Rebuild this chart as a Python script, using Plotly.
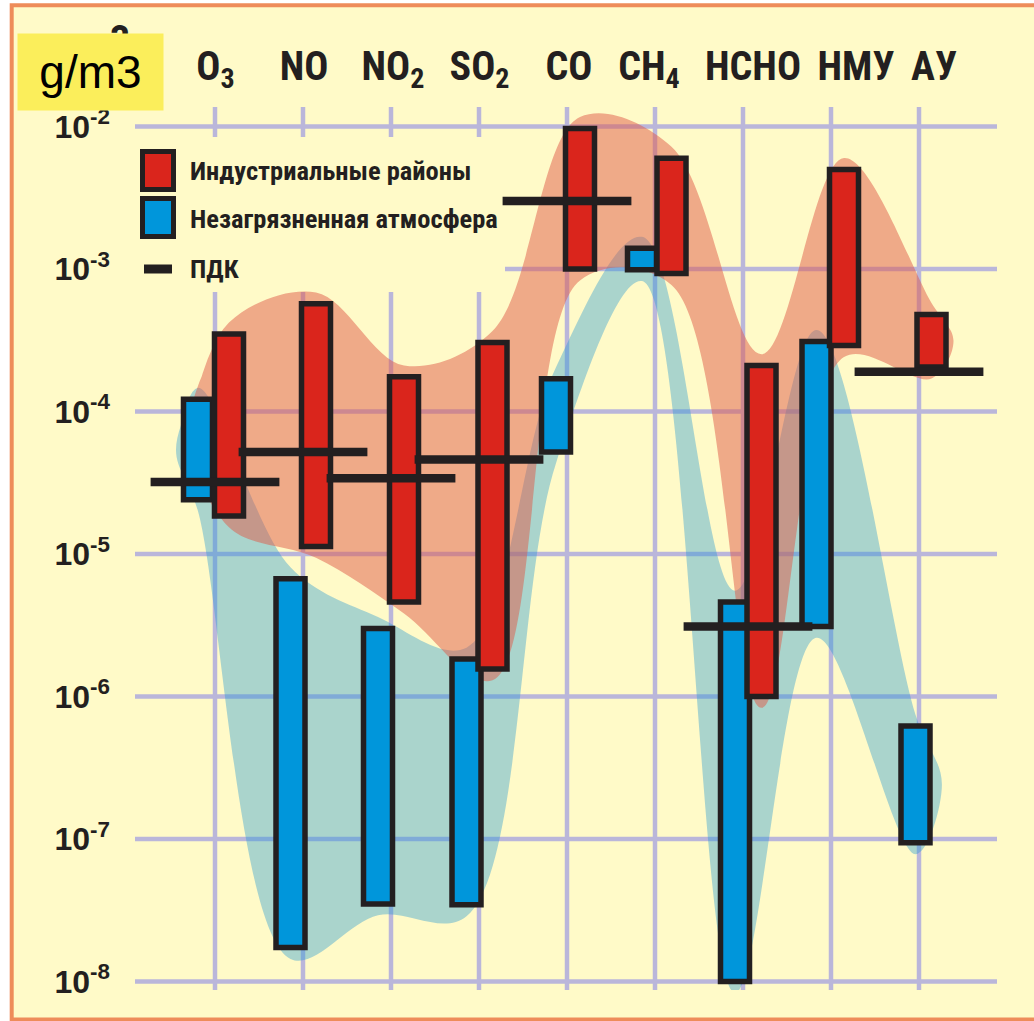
import numpy as np
import plotly.graph_objects as go

# ---- data (g/m3) ----------------------------------------------------------
categories = ["O<sub>3</sub>", "NO", "NO<sub>2</sub>", "SO<sub>2</sub>", "CO",
              "CH<sub>4</sub>", "HCHO", "НМУ", "АУ"]

# industrial areas: upper / lower limit of the observed range
industrial_high = [3.5e-4, 5.7e-4, 1.75e-4, 3.05e-4, 9.7e-3, 6.0e-3, 2.1e-4, 5.0e-3, 4.8e-4]
industrial_low = [1.85e-5, 1.13e-5, 4.6e-6, 1.56e-6, 1.0e-3, 9.3e-4, 1.0e-6, 2.9e-4, 2.05e-4]

# unpolluted atmosphere: upper / lower limit
clean_high = [1.22e-4, 6.7e-6, 3.0e-6, 1.83e-6, 1.7e-4, 1.4e-3, 4.6e-6, 3.1e-4, 6.2e-7]
clean_low = [2.4e-5, 1.73e-8, 3.5e-8, 3.45e-8, 5.2e-5, 9.9e-4, 1.0e-8, 3.1e-6, 9.4e-8]

# maximum permissible concentration (ПДК)
pdk = [3.2e-5, 5.2e-5, 3.4e-5, 4.6e-5, 3.0e-3, None, 3.1e-6, None, 1.9e-4]

decades = [1e-8, 1e-7, 1e-6, 1e-5, 1e-4, 1e-3, 1e-2]
decade_labels = ["10<sup>-8</sup>", "10<sup>-7</sup>", "10<sup>-6</sup>", "10<sup>-5</sup>",
                 "10<sup>-4</sup>", "10<sup>-3</sup>", "10<sup>-2</sup>"]

# ---- styling ---------------------------------------------------------------
W, H = 1034, 1021
ML, MR, MT, MB = 135, 37, 107, 31
PW, PH = W - ML - MR, H - MT - MB
STEP = 88.0                      # px between categories
XR = [-80 / STEP, (PW - 80) / STEP]
YR = [-8.06, -1.863]

# horizontal nudges relative to the category line (px)
clean_nudge_px = [-17, -12.5, -13, -12.5, -11, -13, -8, -14.5, -3.5]
industrial_nudge_px = [14, 13, 13, 13.5, 13, 16.5, 18.5, 13, 12.5]
pdk_nudge_px = [0, 0, 0, 0, 0, 0, 5, 0, 0]
label_nudge_px = [0.5, 1, 2, 0.5, 2, -6, 10, 25, 15]

CREAM = "#FFFAC8"
GRID = "#BAB6DA"
INK = "#231F20"
RED = "#DA251C"
BLUE = "#0096DB"
NARROW = "Roboto Condensed, Liberation Sans Narrow, Roboto, sans-serif"
SANS = "Liberation Sans, Arial, sans-serif"

BAR_W = 29 / STEP
OUTLINE = 5.5

idx = np.arange(len(categories), dtype=float)
x_clean = idx + np.array(clean_nudge_px) / STEP
x_ind = idx + np.array(industrial_nudge_px) / STEP
x_pdk = idx + np.array(pdk_nudge_px) / STEP
x_label = idx + np.array(label_nudge_px) / STEP


def px_x(px):
    return (px - ML) / PW


def px_y(py):
    return 1 - (py - MT) / PH


def envelope(xc, hi, lo, pad, cap_l, cap_r):
    """Closed smooth outline around a series of floating ranges."""
    lhi = np.log10(hi) + pad
    llo = np.log10(lo) - pad
    xs = [xc[0] - cap_l] + list(xc) + [xc[-1] + cap_r] + list(xc[::-1])
    ys = [(lhi[0] + llo[0]) / 2] + list(lhi) + [(lhi[-1] + llo[-1]) / 2] + list(llo[::-1])
    xs = xs + xs[:2]
    ys = ys + ys[:2]
    return xs, [10 ** v for v in ys]


def range_boxes(xc, hi, lo, w):
    """Rectangle outlines (one closed piece per range) for a filled scatter."""
    xs, ys = [], []
    for x, h, l in zip(xc, hi, lo):
        xs += [x, x + w / 2, x + w / 2, x - w / 2, x - w / 2, x, None]
        ys += [l, l, h, h, l, l, None]
    return xs, ys


fig = go.Figure()

# envelopes
cx, cy = envelope(x_clean, clean_high, clean_low, 0.08, 0.25, 0.3)
fig.add_trace(go.Scatter(x=cx, y=cy, mode="lines", fill="toself",
                         fillcolor="rgba(42,155,210,0.40)",
                         line=dict(width=0, shape="spline", smoothing=1.0),
                         hoverinfo="skip", showlegend=False))
ix, iy = envelope(x_ind, industrial_high, industrial_low, 0.08, 0.45, 0.25)
fig.add_trace(go.Scatter(x=ix, y=iy, mode="lines", fill="toself",
                         fillcolor="rgba(223,90,72,0.50)",
                         line=dict(width=0, shape="spline", smoothing=1.0),
                         hoverinfo="skip", showlegend=False))

# floating range bars
bx, by = range_boxes(x_clean, clean_high, clean_low, BAR_W)
fig.add_trace(go.Scatter(x=bx, y=by, mode="lines", fill="toself", fillcolor=BLUE,
                         line=dict(color=INK, width=OUTLINE),
                         name="Незагрязненная атмосфера", showlegend=False))
rx, ry = range_boxes(x_ind, industrial_high, industrial_low, BAR_W)
fig.add_trace(go.Scatter(x=rx, y=ry, mode="lines", fill="toself", fillcolor=RED,
                         line=dict(color=INK, width=OUTLINE),
                         name="Индустриальные районы", showlegend=False))

# ПДК marks
pdk_x = [x for x, v in zip(x_pdk, pdk) if v is not None]
pdk_y = [v for v in pdk if v is not None]
fig.add_trace(go.Scatter(x=pdk_x, y=pdk_y, mode="markers", name="ПДК",
                         marker=dict(symbol="line-ew", size=92,
                                     line=dict(color=INK, width=8.5)),
                         showlegend=False))

shapes = []
# framed page background
shapes.append(dict(type="rect", xref="paper", yref="paper",
                   x0=px_x(11.7), x1=px_x(W + 20), y0=px_y(5.3), y1=px_y(1019.5),
                   fillcolor=CREAM, line=dict(color="#EE8C5A", width=4), layer="below"))
# grid
for d in decades:
    shapes.append(dict(type="line", xref="paper", yref="y", x0=0, x1=1, y0=d, y1=d,
                       line=dict(color=GRID, width=4.5), layer="below"))
for i in range(len(categories)):
    shapes.append(dict(type="line", xref="x", yref="paper", x0=i, x1=i, y0=0, y1=1,
                       line=dict(color=GRID, width=4.5), layer="below"))
# legend panel hides the grid behind it
shapes.append(dict(type="rect", xref="paper", yref="paper",
                   x0=px_x(133), x1=px_x(505), y0=px_y(292), y1=px_y(137),
                   fillcolor=CREAM, line=dict(width=0), layer="below"))
# legend keys
for (y0, y1), col in [((151.5, 189.5), RED), ((198.5, 236.5), BLUE)]:
    shapes.append(dict(type="rect", xref="paper", yref="paper",
                       x0=px_x(142.5), x1=px_x(173.5), y0=px_y(y1), y1=px_y(y0),
                       fillcolor=col, line=dict(color=INK, width=5), layer="above"))
shapes.append(dict(type="line", xref="paper", yref="paper",
                   x0=px_x(144), x1=px_x(172), y0=px_y(269), y1=px_y(269),
                   line=dict(color=INK, width=9), layer="above"))

annotations = []
legend_rows = [("Индустриальные районы", 171), ("Незагрязненная атмосфера", 218), ("ПДК", 269)]
for text, yc in legend_rows:
    annotations.append(dict(xref="paper", yref="paper", x=px_x(188), y=px_y(yc),
                            xanchor="left", yanchor="middle", showarrow=False, text=text,
                            font=dict(family=NARROW, size=26.5, color=INK, weight="bold")))

# unit badge over the axis caption
annotations.append(dict(xref="paper", yref="paper", x=px_x(120), y=px_y(40),
                        xanchor="center", yanchor="middle", showarrow=False, text="3",
                        font=dict(family=NARROW, size=40, color=INK, weight="bold")))
annotations.append(dict(xref="paper", yref="paper", x=px_x(90.5), y=px_y(72),
                        xanchor="center", yanchor="middle", showarrow=False, text="g/m3",
                        width=145, height=76, borderpad=0, bgcolor="#FBEE5B",
                        font=dict(family=SANS, size=46, color="#000000")))

fig.update_layout(
    width=W, height=H,
    margin=dict(l=ML, r=MR, t=MT, b=MB, pad=0),
    paper_bgcolor="#FFFFFF", plot_bgcolor="rgba(0,0,0,0)",
    showlegend=False,
    shapes=shapes, annotations=annotations,
    xaxis=dict(range=XR, tickvals=list(x_label), ticktext=categories,
               side="top", showgrid=False, zeroline=False, showline=False, ticks="",
               tickangle=0, ticklabelstandoff=18,
               tickfont=dict(family=NARROW, size=40, color=INK, weight="bold")),
    yaxis=dict(type="log", range=YR, tickvals=decades, ticktext=decade_labels,
               showgrid=False, zeroline=False, showline=False, ticks="",
               ticklabelstandoff=24,
               tickfont=dict(family=SANS, size=32, color=INK, weight="bold")),
)

fig.write_html("out.html")
